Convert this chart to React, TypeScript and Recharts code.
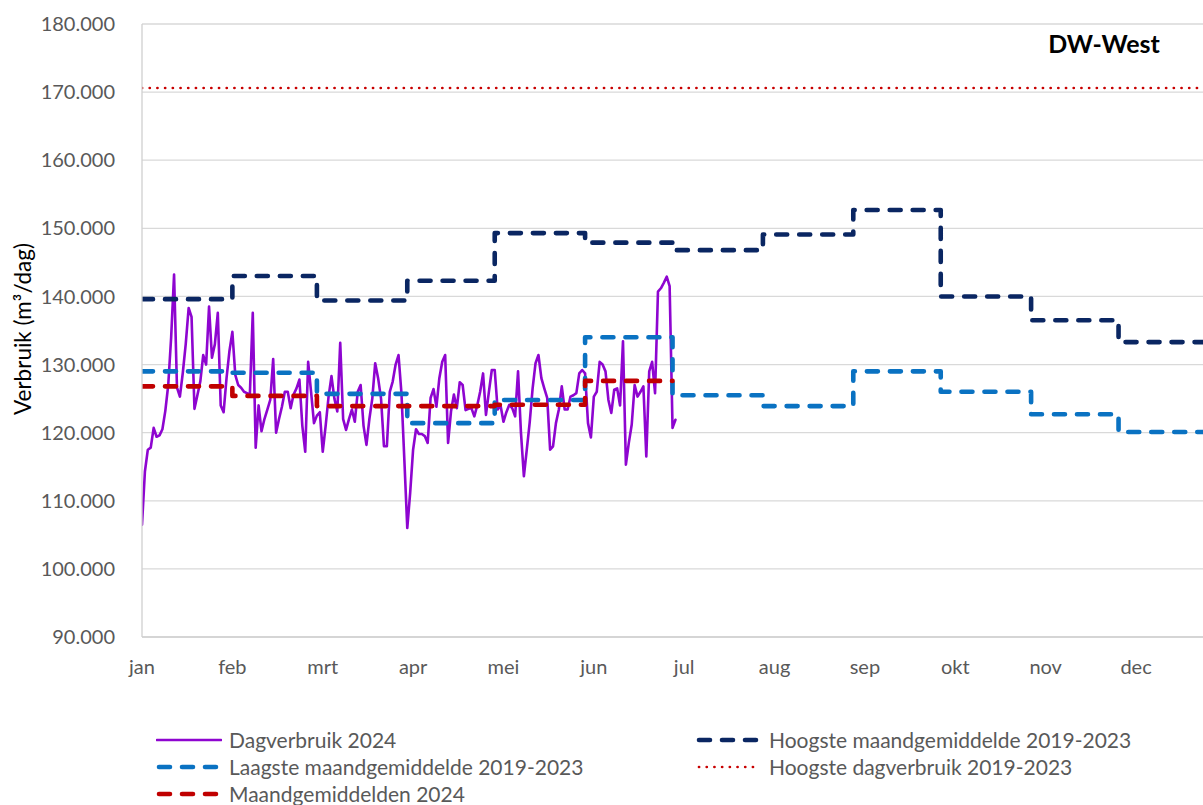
import React from 'react';
import { LineChart, Line, XAxis, YAxis, CartesianGrid, Legend } from 'recharts';

// ---- data (values in thousands of m³/dag) ----
const MONTHS = ['jan', 'feb', 'mrt', 'apr', 'mei', 'jun', 'jul', 'aug', 'sep', 'okt', 'nov', 'dec'];
const MONTH_START_DAYS = [0, 31, 60, 91, 121, 152, 182, 213, 244, 274, 305, 335];
const LAST_DAY = 365;
const LABEL_INTERVAL = 31;
const Y_TICKS = [90, 100, 110, 120, 130, 140, 150, 160, 170, 180];

const DAGVERBRUIK_2024 = [
  106.5, 114.3, 117.5, 117.8, 120.7, 119.4, 119.6, 120.5, 123.2, 127.0,
  134.0, 143.2, 126.6, 125.3, 128.8, 133.0, 138.3, 137.0, 123.5, 125.5,
  127.5, 131.4, 130.0, 138.5, 131.0, 133.0, 137.6, 124.0, 123.0, 128.0,
  132.0, 134.8, 128.5, 127.0, 126.6, 126.0, 125.8, 125.6, 137.6, 117.8,
  124.0, 120.2, 122.0, 123.4, 124.8, 130.8, 120.0, 122.0, 123.8, 126.0,
  126.0, 123.6, 125.6, 126.5, 127.8, 121.0, 117.2, 130.4, 126.0, 121.4,
  122.5, 123.0, 117.2, 121.0, 125.3, 128.3, 125.0, 123.1, 133.2, 122.0,
  120.4, 122.0, 123.4, 121.6, 126.0, 127.0, 121.0, 118.2, 122.0, 125.0,
  130.2, 128.0, 125.0, 118.0, 118.0, 126.0, 127.5, 130.0, 131.4, 125.8,
  116.0, 106.0, 111.2, 117.5, 120.5, 119.8, 119.8, 119.5, 118.5, 125.1,
  126.4, 123.8, 128.0, 130.4, 131.4, 118.5, 123.1, 125.6, 123.6, 127.4,
  127.0, 123.3, 123.5, 123.6, 122.4, 124.0, 126.0, 128.7, 122.6, 126.0,
  129.2, 129.2, 123.4, 124.0, 121.6, 123.0, 124.1, 123.6, 122.4, 129.0,
  120.0, 113.6, 117.5, 121.5, 126.5, 130.2, 131.4, 128.0, 126.5, 125.1,
  117.5, 118.0, 121.4, 123.4, 126.8, 123.4, 123.4, 125.3, 125.5, 125.8,
  128.7, 129.2, 128.7, 121.4, 119.3, 125.3, 126.0, 130.4, 130.0, 129.0,
  124.8, 122.9, 126.3, 126.5, 124.0, 133.4, 115.3, 118.5, 121.2, 127.0,
  125.3, 126.0, 126.8, 116.5, 129.0, 130.4, 125.8, 140.7, 141.2, 142.0,
  142.9, 141.5, 120.7, 121.9,
];
const HOOGSTE_MAAND_2019_2023 = [139.6, 143.0, 139.4, 142.3, 149.3, 147.9, 146.8, 149.1, 152.7, 140.0, 136.5, 133.3];
const LAAGSTE_MAAND_2019_2023 = [129.0, 128.8, 125.7, 121.4, 124.8, 134.0, 125.5, 123.9, 129.0, 126.0, 122.7, 120.1];
const MAANDGEMIDDELDEN_2024 = [126.8, 125.4, 123.9, 123.9, 124.1, 127.6];
const HOOGSTE_DAG_2019_2023 = 170.6;

// ---- table built from the arrays ----
const monthOf = (d: number) => {
  let m = 0;
  MONTH_START_DAYS.forEach((s, i) => {
    if (d >= s) m = i;
  });
  return m;
};

const ROWS = Array.from({ length: LAST_DAY + 1 }, (_, d) => {
  const m = monthOf(d);
  const nGem = MAANDGEMIDDELDEN_2024.length;
  let gem: number | null = null;
  if (m < nGem) gem = MAANDGEMIDDELDEN_2024[m];
  else if (d === MONTH_START_DAYS[nGem]) gem = MAANDGEMIDDELDEN_2024[nGem - 1];
  return {
    day: d,
    dag: d < DAGVERBRUIK_2024.length ? DAGVERBRUIK_2024[d] : null,
    hoog: HOOGSTE_MAAND_2019_2023[m],
    laag: LAAGSTE_MAAND_2019_2023[m],
    max: HOOGSTE_DAG_2019_2023,
    gem,
  };
});

const X_TICKS = MONTHS.map((_, i) => i * LABEL_INTERVAL);

type SeriesCfg = {
  key: string;
  name: string;
  color: string;
  width: number;
  dash?: string;
  cap: 'round' | 'butt';
  type: 'linear' | 'stepAfter';
};

const SERIES: SeriesCfg[] = [
  { key: 'dag', name: 'Dagverbruik 2024', color: '#8E05D0', width: 2.6, cap: 'round', type: 'linear' },
  { key: 'hoog', name: 'Hoogste maandgemiddelde 2019-2023', color: '#0A2662', width: 4.6, dash: '11 12', cap: 'round', type: 'stepAfter' },
  { key: 'laag', name: 'Laagste maandgemiddelde 2019-2023', color: '#0A72C2', width: 4.6, dash: '11 12', cap: 'round', type: 'stepAfter' },
  { key: 'max', name: 'Hoogste dagverbruik 2019-2023', color: '#C80000', width: 2.7, dash: '0.1 7.6', cap: 'round', type: 'linear' },
  { key: 'gem', name: 'Maandgemiddelden 2024', color: '#C00000', width: 4.6, dash: '11 12', cap: 'round', type: 'stepAfter' },
];

// legend layout (two columns)
const LEGEND_SLOTS = [
  { x: 156, y: 740 },
  { x: 696, y: 740 },
  { x: 156, y: 767 },
  { x: 696, y: 767 },
  { x: 156, y: 794 },
];

const FONT = 'Lato, "Open Sans", sans-serif';
const GREY = '#595959';

const renderLegend = () => (
  <div style={{ position: 'relative', width: 1203, height: 805 }}>
    {SERIES.map((s, i) => {
      const p = LEGEND_SLOTS[i];
      return (
        <div
          key={s.key}
          style={{
            position: 'absolute',
            left: p.x,
            top: p.y - 14,
            height: 28,
            display: 'flex',
            alignItems: 'center',
            whiteSpace: 'nowrap',
          }}
        >
          <svg width={66} height={28} style={{ display: 'block' }}>
            <line
              x1={s.dash ? 3 : 1}
              y1={14}
              x2={s.dash ? 63 : 65}
              y2={14}
              stroke={s.color}
              strokeWidth={s.width}
              strokeDasharray={s.dash}
              strokeLinecap={s.cap}
            />
          </svg>
          <span
            style={{
              marginLeft: 7,
              fontFamily: FONT,
              fontSize: 21,
              color: GREY,
              lineHeight: '28px',
            }}
          >
            {s.name}
          </span>
        </div>
      );
    })}
  </div>
);

const YLabel = () => (
  <text
    x={22}
    y={329}
    transform="rotate(-90 22 329)"
    textAnchor="middle"
    dominantBaseline="central"
    fontFamily={FONT}
    fontSize={22.5}
    fill="#000"
  >
    Verbruik (m³/dag)
  </text>
);

export default function App() {
  return (
    <div
      style={{
        position: 'absolute',
        left: 0,
        top: 0,
        width: 1203,
        height: 805,
        overflow: 'hidden',
        background: '#fff',
      }}
    >
      <LineChart
        width={1215}
        height={805}
        data={ROWS}
        margin={{ top: 24, right: 9, bottom: 128, left: 0 }}
      >
        <CartesianGrid vertical={false} stroke="#d9d9d9" strokeWidth={1.3} />
        <XAxis
          dataKey="day"
          type="number"
          domain={[0, LAST_DAY]}
          ticks={X_TICKS}
          interval={0}
          tickFormatter={(v: number) => MONTHS[Math.round(v / LABEL_INTERVAL)]}
          tickLine={false}
          tickSize={0}
          tickMargin={23}
          height={40}
          stroke="#d0d0d0"
          strokeWidth={1.3}
          tick={{ fill: GREY, fontSize: 20, fontFamily: FONT }}
          allowDataOverflow
        />
        <YAxis
          type="number"
          domain={[90, 180]}
          ticks={Y_TICKS}
          interval={0}
          width={142}
          tickLine={false}
          tickSize={0}
          tickMargin={27}
          stroke="#d0d0d0"
          strokeWidth={1.3}
          tickFormatter={(v: number) => `${v}.000`}
          tick={{ fill: GREY, fontSize: 20, fontFamily: FONT }}
          label={{ content: () => <YLabel /> }}
          allowDataOverflow
        />
        <Legend
          layout="horizontal"
          verticalAlign="middle"
          align="center"
          content={renderLegend}
          wrapperStyle={{ left: 0, top: 0, width: 1203, height: 805, pointerEvents: 'none' }}
        />
        {SERIES.map((s) => (
          <Line
            key={s.key}
            dataKey={s.key}
            name={s.name}
            type={s.type}
            stroke={s.color}
            strokeWidth={s.width}
            strokeDasharray={s.dash}
            strokeLinecap={s.cap}
            strokeLinejoin="round"
            dot={false}
            activeDot={false}
            connectNulls={false}
            isAnimationActive={false}
          />
        ))}
      </LineChart>
      <div
        style={{
          position: 'absolute',
          left: 1043,
          top: 27,
          width: 122,
          textAlign: 'center',
          fontFamily: FONT,
          fontWeight: 700,
          fontSize: 25,
          color: '#000',
          lineHeight: '32px',
        }}
      >
        DW-West
      </div>
    </div>
  );
}
